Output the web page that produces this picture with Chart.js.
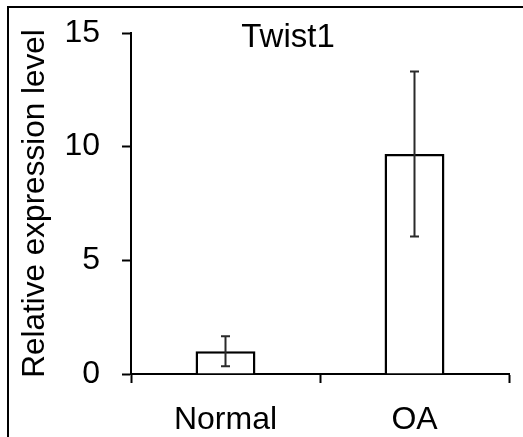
<!DOCTYPE html>
<html>
<head>
<meta charset="utf-8">
<script src="https://cdn.jsdelivr.net/npm/chart.js@4"></script>
<style>
  html, body { margin: 0; padding: 0; background: #fff; }
  #wrap { width: 523px; height: 437px; position: relative; overflow: hidden; }
  #wrap canvas { position: absolute; left: 0; top: 0; }
  #frame {
    position: absolute; left: 7px; top: 6px; right: -10px; bottom: -10px;
    border-top: 2px solid #000; border-left: 2px solid #000;
    pointer-events: none;
  }
</style>
</head>
<body>
<div id="wrap"><canvas id="chart" width="523" height="437"></canvas><div id="frame"></div></div>
<script>
// ── Twist1 relative expression: two bars + SD error bars ──
const categories = ['Normal', 'OA'];
const means      = [1.0, 9.68];
const errors     = [0.66, 3.63];
const yTicks     = [0, 5, 10, 15];

const FONT = '"Liberation Sans", Arial, sans-serif';

// Chart title text (placed off-centre as in the original figure)
const titlePlugin = {
  id: 'twistTitle',
  afterDraw(chart) {
    const c = chart.ctx;
    c.save();
    c.fillStyle = '#000';
    c.font = '33px ' + FONT;
    c.textAlign = 'center';
    c.textBaseline = 'alphabetic';
    c.fillText('Twist1', 288, 47);
    c.restore();
  }
};

// Error bars from the means/errors arrays via the chart scales
const errorBarPlugin = {
  id: 'errorBars',
  afterDatasetsDraw(chart) {
    const c = chart.ctx;
    const x = chart.scales.x, y = chart.scales.y;
    c.save();
    c.strokeStyle = '#2a2a2a';
    c.lineWidth = 2;
    means.forEach((m, i) => {
      const px  = x.getPixelForValue(i);
      const top = y.getPixelForValue(m + errors[i]);
      const bot = y.getPixelForValue(m - errors[i]);
      const cap = 4.5;
      c.beginPath();
      c.moveTo(px, top); c.lineTo(px, bot);
      c.moveTo(px - cap, top); c.lineTo(px + cap, top);
      c.moveTo(px - cap, bot); c.lineTo(px + cap, bot);
      c.stroke();
    });
    c.restore();
  }
};

new Chart(document.getElementById('chart'), {
  type: 'bar',
  data: {
    labels: categories,
    datasets: [{
      data: means,
      backgroundColor: '#fff',
      borderColor: '#000',
      borderWidth: 2.5,
      borderSkipped: 'start',
      categoryPercentage: 1,
      barPercentage: 0.317
    }]
  },
  options: {
    responsive: false,
    animation: false,
    layout: { padding: { top: 33, right: 14, left: 0, bottom: 0 } },
    plugins: {
      legend: { display: false },
      tooltip: { enabled: false },
      title: { display: false }
    },
    scales: {
      x: {
        offset: true,
        grid: {
          offset: true,
          drawOnChartArea: false,
          tickLength: 9,
          tickWidth: 2,
          tickColor: '#000'
        },
        border: { display: true, color: '#000', width: 2 },
        ticks: {
          color: '#000',
          padding: 18,
          font: { family: FONT, size: 32 }
        },
        afterFit: s => { s.height = 63; s.paddingLeft = 0; s.paddingRight = 0; }
      },
      y: {
        min: 0,
        max: 15,
        afterBuildTicks: s => { s.ticks = yTicks.map(v => ({ value: v })); },
        grid: {
          drawOnChartArea: false,
          tickLength: 9,
          tickWidth: 2,
          tickColor: '#000'
        },
        border: { display: true, color: '#000', width: 2 },
        ticks: {
          color: '#000',
          padding: 22,
          font: { family: FONT, size: 32 }
        },
        title: {
          display: true,
          text: 'Relative expression level',
          color: '#000',
          padding: { top: 16, bottom: 0 },
          font: { family: FONT, size: 31.5 }
        },
        afterFit: s => { s.width = 131; s.paddingTop = 0; s.paddingBottom = 0; }
      }
    }
  },
  plugins: [titlePlugin, errorBarPlugin]
});
</script>
</body>
</html>
